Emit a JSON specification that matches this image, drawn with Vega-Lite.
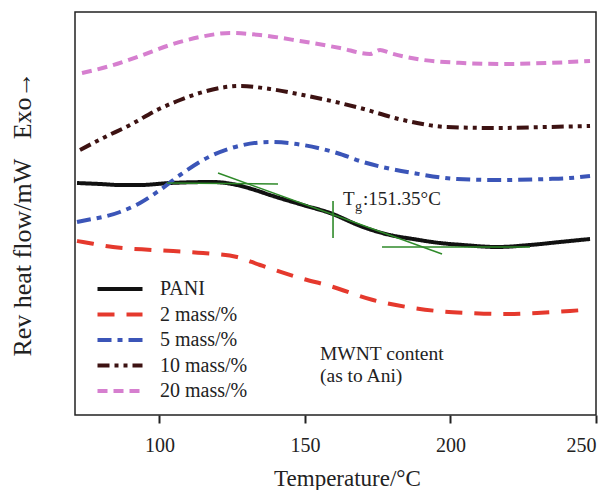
{
  "$schema": "https://vega.github.io/schema/vega-lite/v6.json",
  "width": 521,
  "height": 403,
  "autosize": {"type": "none"},
  "padding": {"left": 75, "top": 12, "right": 18, "bottom": 75},
  "background": "white",
  "config": {
    "font": "Liberation Serif",
    "view": {"stroke": "#222", "strokeWidth": 1.5},
    "axis": {"grid": false, "labelFont": "Liberation Serif", "titleFont": "Liberation Serif", "titleFontWeight": "normal", "labelColor": "#222", "titleColor": "#222"},
    "legend": {"labelFont": "Liberation Serif", "labelFontSize": 20, "labelColor": "#222", "symbolType": "M-3,0H3", "symbolSize": 225, "symbolStrokeWidth": 4, "labelOffset": 30, "rowPadding": 5.5, "padding": 0}
  },
  "datasets": {
    "curves": [
      {"series": "PANI", "T": 71.69, "v": 232}, {"series": "PANI", "T": 79.59, "v": 231}, {"series": "PANI", "T": 86.46, "v": 230}, {"series": "PANI", "T": 93.33, "v": 230}, {"series": "PANI", "T": 103.64, "v": 232}, {"series": "PANI", "T": 118.41, "v": 233}, {"series": "PANI", "T": 126.66, "v": 230}, {"series": "PANI", "T": 132.85, "v": 225}, {"series": "PANI", "T": 138.0, "v": 220}, {"series": "PANI", "T": 149.34, "v": 210}, {"series": "PANI", "T": 158.62, "v": 202}, {"series": "PANI", "T": 169.95, "v": 188}, {"series": "PANI", "T": 179.23, "v": 180}, {"series": "PANI", "T": 187.13, "v": 176}, {"series": "PANI", "T": 196.41, "v": 172}, {"series": "PANI", "T": 204.31, "v": 170}, {"series": "PANI", "T": 215.99, "v": 168}, {"series": "PANI", "T": 227.33, "v": 170}, {"series": "PANI", "T": 237.64, "v": 173}, {"series": "PANI", "T": 247.95, "v": 176},
      {"series": "2 mass/%", "T": 71.69, "v": 174}, {"series": "2 mass/%", "T": 73.75, "v": 173}, {"series": "2 mass/%", "T": 84.06, "v": 168}, {"series": "2 mass/%", "T": 97.8, "v": 165}, {"series": "2 mass/%", "T": 115.0, "v": 162}, {"series": "2 mass/%", "T": 126.66, "v": 158}, {"series": "2 mass/%", "T": 134.56, "v": 150}, {"series": "2 mass/%", "T": 148.31, "v": 137}, {"series": "2 mass/%", "T": 158.62, "v": 129}, {"series": "2 mass/%", "T": 173.39, "v": 115}, {"series": "2 mass/%", "T": 185.07, "v": 108}, {"series": "2 mass/%", "T": 195.38, "v": 104}, {"series": "2 mass/%", "T": 206.72, "v": 102}, {"series": "2 mass/%", "T": 218.05, "v": 101}, {"series": "2 mass/%", "T": 229.74, "v": 102}, {"series": "2 mass/%", "T": 241.07, "v": 104}, {"series": "2 mass/%", "T": 245.54, "v": 105},
      {"series": "5 mass/%", "T": 71.69, "v": 193}, {"series": "5 mass/%", "T": 73.4, "v": 194}, {"series": "5 mass/%", "T": 86.46, "v": 203}, {"series": "5 mass/%", "T": 93.33, "v": 212}, {"series": "5 mass/%", "T": 100.2, "v": 225}, {"series": "5 mass/%", "T": 107.08, "v": 240}, {"series": "5 mass/%", "T": 114.98, "v": 255}, {"series": "5 mass/%", "T": 128.72, "v": 270}, {"series": "5 mass/%", "T": 138.0, "v": 273}, {"series": "5 mass/%", "T": 149.34, "v": 270}, {"series": "5 mass/%", "T": 161.02, "v": 262}, {"series": "5 mass/%", "T": 169.95, "v": 253}, {"series": "5 mass/%", "T": 187.13, "v": 242}, {"series": "5 mass/%", "T": 202.25, "v": 236}, {"series": "5 mass/%", "T": 215.99, "v": 235}, {"series": "5 mass/%", "T": 233.17, "v": 236}, {"series": "5 mass/%", "T": 241.07, "v": 237}, {"series": "5 mass/%", "T": 247.95, "v": 239},
      {"series": "10 mass/%", "T": 72.72, "v": 265}, {"series": "10 mass/%", "T": 80.62, "v": 277}, {"series": "10 mass/%", "T": 89.9, "v": 290}, {"series": "10 mass/%", "T": 99.17, "v": 305}, {"series": "10 mass/%", "T": 107.08, "v": 315}, {"series": "10 mass/%", "T": 114.98, "v": 323}, {"series": "10 mass/%", "T": 127.69, "v": 329}, {"series": "10 mass/%", "T": 138.0, "v": 326}, {"series": "10 mass/%", "T": 149.34, "v": 320}, {"series": "10 mass/%", "T": 162.05, "v": 312}, {"series": "10 mass/%", "T": 168.92, "v": 307}, {"series": "10 mass/%", "T": 183.7, "v": 295}, {"series": "10 mass/%", "T": 198.81, "v": 288}, {"series": "10 mass/%", "T": 216.0, "v": 287}, {"series": "10 mass/%", "T": 233.17, "v": 288}, {"series": "10 mass/%", "T": 247.95, "v": 289},
      {"series": "20 mass/%", "T": 73.4, "v": 342}, {"series": "20 mass/%", "T": 83.03, "v": 349}, {"series": "20 mass/%", "T": 93.33, "v": 359}, {"series": "20 mass/%", "T": 103.64, "v": 370}, {"series": "20 mass/%", "T": 113.95, "v": 378}, {"series": "20 mass/%", "T": 124.26, "v": 382}, {"series": "20 mass/%", "T": 134.56, "v": 380}, {"series": "20 mass/%", "T": 148.31, "v": 374}, {"series": "20 mass/%", "T": 162.05, "v": 367}, {"series": "20 mass/%", "T": 172.36, "v": 361}, {"series": "20 mass/%", "T": 174.07, "v": 363}, {"series": "20 mass/%", "T": 175.79, "v": 365}, {"series": "20 mass/%", "T": 179.23, "v": 362}, {"series": "20 mass/%", "T": 188.51, "v": 356}, {"series": "20 mass/%", "T": 204.31, "v": 352}, {"series": "20 mass/%", "T": 218.05, "v": 351}, {"series": "20 mass/%", "T": 233.17, "v": 352}, {"series": "20 mass/%", "T": 247.95, "v": 354}
    ],
    "tangents": [
      {"T1": 102.61, "v1": 232, "T2": 140.75, "v2": 231},
      {"T1": 120.13, "v1": 242, "T2": 197.1, "v2": 161},
      {"T1": 176.48, "v1": 168, "T2": 227.33, "v2": 168},
      {"T1": 159.65, "v1": 214, "T2": 159.65, "v2": 177}
    ]
  },
  "layer": [
    {
      "data": {"name": "curves"},
      "mark": {"type": "line", "strokeWidth": 4, "interpolate": "monotone"},
      "encoding": {
        "x": {"field": "T", "type": "quantitative", "scale": {"domain": [71, 250], "nice": false, "zero": false},
          "axis": {"values": [100, 150, 200, 250], "title": "Temperature/°C", "titleFontSize": 23, "labelFontSize": 20, "tickSize": 8, "tickWidth": 2, "tickColor": "#222", "domain": false, "labelPadding": 12, "titlePadding": 12, "titleX": 272}},
        "y": {"field": "v", "type": "quantitative", "scale": {"domain": [0, 403], "nice": false},
          "axis": {"title": "Rev heat flow/mW\u00a0\u00a0\u00a0Exo→", "titleFontSize": 26, "labels": false, "ticks": false, "domain": false, "titlePadding": 40}},
        "color": {"field": "series", "type": "nominal",
          "scale": {"domain": ["PANI", "2 mass/%", "5 mass/%", "10 mass/%", "20 mass/%"], "range": ["#111111", "#e5392d", "#3b55b8", "#3d1212", "#d67fcf"]},
          "legend": {"title": null, "orient": "none", "legendX": 35, "legendY": 267}},
        "strokeDash": {"field": "series", "type": "nominal",
          "scale": {"domain": ["PANI", "2 mass/%", "5 mass/%", "10 mass/%", "20 mass/%"], "range": [[1, 0], [17, 12], [14, 6, 5, 6], [12, 5, 4, 5, 4, 5], [10, 6]]},
          "legend": {"title": null, "orient": "none", "legendX": 35, "legendY": 267}}
      }
    },
    {
      "data": {"name": "tangents"},
      "mark": {"type": "rule", "color": "#2f8a2a", "strokeWidth": 1.6},
      "encoding": {
        "x": {"field": "T1", "type": "quantitative"},
        "y": {"field": "v1", "type": "quantitative"},
        "x2": {"field": "T2"},
        "y2": {"field": "v2"}
      }
    },
    {
      "data": {"values": [{}]},
      "mark": {"type": "text", "align": "left", "baseline": "alphabetic", "fontSize": 19, "color": "#222"},
      "encoding": {"x": {"datum": 163.08}, "y": {"datum": 210}, "text": {"value": "T"}}
    },
    {
      "data": {"values": [{}]},
      "mark": {"type": "text", "align": "left", "baseline": "alphabetic", "fontSize": 14, "color": "#222"},
      "encoding": {"x": {"datum": 167.2}, "y": {"datum": 204}, "text": {"value": "g"}}
    },
    {
      "data": {"values": [{}]},
      "mark": {"type": "text", "align": "left", "baseline": "alphabetic", "fontSize": 19, "color": "#222"},
      "encoding": {"x": {"datum": 169.95}, "y": {"datum": 210}, "text": {"value": ":151.35°C"}}
    },
    {
      "data": {"values": [{}]},
      "mark": {"type": "text", "align": "left", "baseline": "alphabetic", "fontSize": 19.5, "color": "#222"},
      "encoding": {"x": {"datum": 155.17}, "y": {"datum": 55}, "text": {"value": "MWNT content"}}
    },
    {
      "data": {"values": [{}]},
      "mark": {"type": "text", "align": "left", "baseline": "alphabetic", "fontSize": 19.5, "color": "#222"},
      "encoding": {"x": {"datum": 155.17}, "y": {"datum": 33}, "text": {"value": "(as to Ani)"}}
    }
  ]
}
